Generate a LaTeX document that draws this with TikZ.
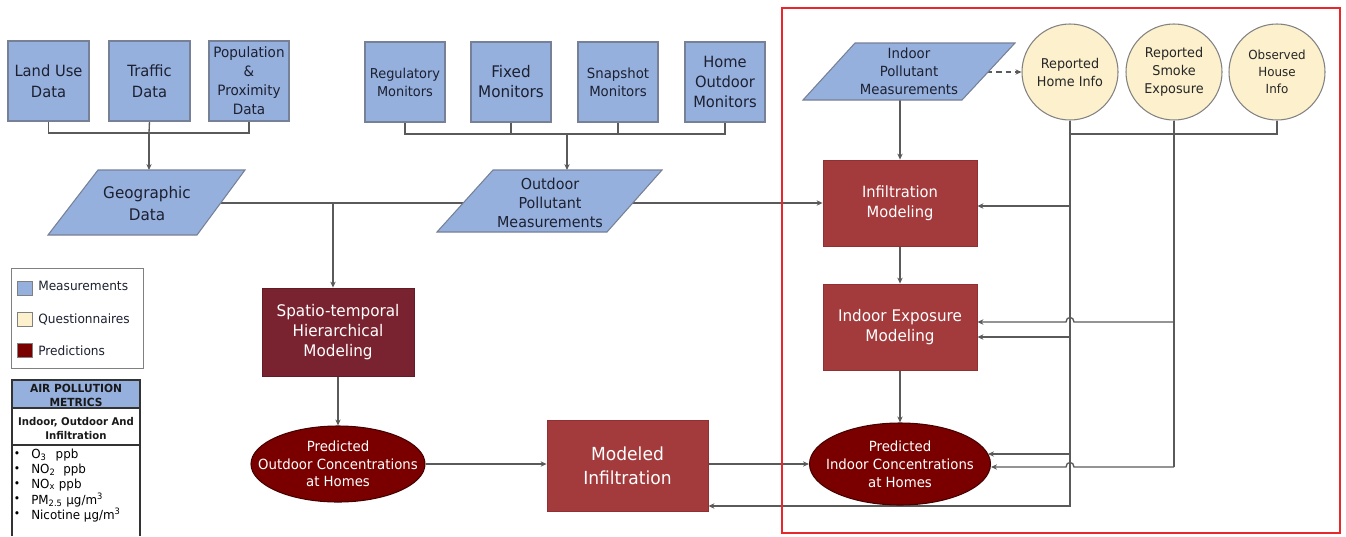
\documentclass[tikz,border=0pt]{standalone}
\usepackage{fontspec}
\setmainfont{DejaVu Sans}[FakeStretch=0.95]
\usetikzlibrary{arrows.meta,shapes.geometric}
\definecolor{measblue}{RGB}{150,176,222}
\definecolor{measdraw}{RGB}{118,128,150}
\definecolor{bluetext}{RGB}{28,32,48}
\definecolor{questfill}{RGB}{252,240,205}
\definecolor{questdraw}{RGB}{130,130,130}
\definecolor{maroon}{RGB}{122,35,48}
\definecolor{modred}{RGB}{163,58,60}
\definecolor{modreddraw}{RGB}{145,48,50}
\definecolor{ellred}{RGB}{122,0,0}
\definecolor{elldraw}{RGB}{70,0,0}
\definecolor{conncol}{RGB}{90,90,90}
\definecolor{framered}{RGB}{232,38,44}
\pgfdeclarelayer{bg}\pgfdeclarelayer{fg}\pgfsetlayers{bg,main,fg}
\begin{document}
\begin{tikzpicture}[x=0.75pt,y=-0.75pt,
  fnt/.style 2 args={font=\fontsize{#1}{#2}\selectfont},
  box/.style={rectangle, inner sep=0pt, align=center},
  meas/.style={box, fill=measblue, draw=measdraw, line width=0.8pt, text=bluetext},
  pgram/.style={fill=measblue, draw=measdraw, line width=0.8pt},
  ptext/.style={inner sep=0pt, align=center, text=bluetext},
  quest/.style={circle, inner sep=0pt, fill=questfill, draw=questdraw, line width=0.8pt, minimum size=96*0.75pt, align=center, text=black!85},
  modbox/.style={box, fill=modred, draw=modreddraw, line width=0.6pt, text=white},
  stbox/.style={box, fill=maroon, draw=maroon!80!black, line width=0.6pt, text=white},
  ell/.style={ellipse, inner sep=0pt, fill=ellred, draw=elldraw, line width=0.8pt},
  elltext/.style={inner sep=0pt, align=center, text=white},
  conn/.style={draw=conncol, line width=1pt},
  arr/.style={conn, -{Stealth[length=4.5pt,width=4pt]}},
  legsq/.style={rectangle, inner sep=0pt, minimum width=15*0.75pt, minimum height=14*0.75pt, draw=gray, line width=0.5pt},
  legtext/.style={anchor=west, inner sep=0pt, fnt={9.6}{12}, text=bluetext},
  item/.style={anchor=west, inner sep=0pt, fnt={9.4}{11}, text=black},
  bullet/.style={anchor=center, inner sep=0pt, fnt={8.5}{9}, text=black}
]
\useasboundingbox (0,0) rectangle (1346,536);

% ---------- top measurement boxes ----------
\node[meas, minimum width=81*0.75pt, minimum height=80*0.75pt, fnt={11.6}{15.75}] (landuse) at (48.5,81) {Land Use\\Data};
\node[meas, minimum width=81*0.75pt, minimum height=80*0.75pt, fnt={11.6}{15.75}] (traffic) at (149.5,81) {Traffic\\Data};
\node[meas, minimum width=80*0.75pt, minimum height=80*0.75pt, fnt={10.7}{14.25}] (popul) at (249,81) {Population\\\&\\Proximity\\Data};

\node[meas, minimum width=80*0.75pt, minimum height=80*0.75pt, fnt={10.2}{13.5}] (regul) at (405,82) {Regulatory\\Monitors};
\node[meas, minimum width=80*0.75pt, minimum height=80*0.75pt, fnt={12}{15}] (fixed) at (511,82) {Fixed\\Monitors};
\node[meas, minimum width=80*0.75pt, minimum height=80*0.75pt, fnt={10.5}{13.5}] (snap) at (618,82) {Snapshot\\Monitors};
\node[meas, minimum width=80*0.75pt, minimum height=80*0.75pt, fnt={11.6}{15}] (homeout) at (725,82) {Home\\Outdoor\\Monitors};

% ---------- parallelograms ----------
\draw[pgram] (98,170) -- (245,170) -- (197,235) -- (48,235) -- cycle;
\node[ptext, fnt={12}{16.5}] (geo) at (147,204) {Geographic\\Data};
\coordinate (geoN) at (149,170);
\coordinate (geoE) at (221,203);

\draw[pgram] (493,170) -- (662,170) -- (607,232) -- (437,232) -- cycle;
\node[ptext, fnt={11.3}{14.25}] (outpoll) at (550,203) {Outdoor\\Pollutant\\Measurements};
\coordinate (outpollN) at (567,170);

\draw[pgram] (855,43) -- (1015,43) -- (962,100) -- (803,100) -- cycle;
\node[ptext, fnt={10.5}{13.5}] (indpoll) at (909,71) {Indoor\\Pollutant\\Measurements};
\coordinate (indpollS) at (900,100);
\coordinate (indpollE) at (987,72);

% ---------- questionnaire circles ----------
\node[quest, fnt={10.1}{13.5}] (homeinfo) at (1070,72) {Reported\\Home Info};
\node[quest, fnt={10.1}{13.5}] (smoke) at (1174,72) {Reported\\Smoke\\Exposure};
\node[quest, fnt={9.4}{12.75}] (observed) at (1277,72) {Observed\\House\\Info};

% ---------- model boxes ----------
\node[modbox, minimum width=154*0.75pt, minimum height=86*0.75pt, fnt={11.6}{15}] (infil) at (900,203) {Infiltration\\Modeling};
\node[modbox, minimum width=154*0.75pt, minimum height=86*0.75pt, fnt={12}{15}] (indexp) at (900,327) {Indoor Exposure\\Modeling};
\node[stbox, minimum width=152*0.75pt, minimum height=88*0.75pt, fnt={12}{15}] (spatio) at (338,332) {Spatio-temporal\\Hierarchical\\Modeling};
\node[modbox, minimum width=161*0.75pt, minimum height=91*0.75pt, fnt={13.5}{18}] (modinf) at (627.5,465.5) {Modeled\\Infiltration};

% ---------- ellipses ----------
\node[ell, minimum width=174*0.75pt, minimum height=76*0.75pt] (predout) at (338,464) {};
\node[elltext, fnt={10.5}{13.2}] at (predout) {Predicted\\Outdoor Concentrations\\at Homes};
\node[ell, minimum width=181*0.75pt, minimum height=82*0.75pt] (predin) at (900,464) {};
\node[elltext, fnt={10.5}{13.5}] at (predin) {Predicted\\Indoor Concentrations\\at Homes};

% ---------- connectors ----------
\coordinate (b1) at (149,133);
\coordinate (b2) at (567,134);
\coordinate (b3) at (1174,134);
\coordinate (junc) at (333,203);
\coordinate (hb) at (1070,506);
\coordinate (sb) at (1174,467);
\coordinate (h1) at (1070,206);
\coordinate (h2) at (1070,337);
\coordinate (h3) at (1070,454);
\coordinate (s1) at (1174,322);
\coordinate (pinA) at (988,454);
\begin{pgfonlayer}{bg}
\draw[conn] (landuse.south) |- (b1) -| (popul.south);
\draw[conn] (traffic.south) -- (b1);
\draw[arr] (b1) -- (geoN);
\draw[conn] (regul.south) |- (b2) -| (homeout.south);
\draw[conn] (fixed.south) -- (fixed.south |- b2);
\draw[conn] (snap.south) -- (snap.south |- b2);
\draw[arr] (b2) -- (outpollN);
\draw[arr] (geoE) -- (geoE -| infil.west);
\draw[arr] (junc) -- (junc |- spatio.north);
\draw[arr] (spatio.south) -- (predout.north);
\draw[arr] (predout.east) -- (predout.east -| modinf.west);
\draw[arr] (modinf.east |- predin.west) -- (predin.west);
\draw[arr] (indpollS) -- (indpollS |- infil.north);
\draw[arr] (infil.south) -- (indexp.north);
\draw[arr] (indexp.south) -- (predin.north);
\draw[arr, dash pattern=on 4pt off 3pt] (indpollE) -- (homeinfo.west);
\draw[conn] (homeinfo.south) |- (b3) -| (observed.south);
\draw[arr] (homeinfo.south) -- (hb) -- (hb -| modinf.east);
\draw[conn] (smoke.south) -- (sb);
\draw[arr] (h1) -- (h1 -| infil.east);
\draw[arr] (h2) -- (h2 -| indexp.east);
\draw[arr] (h3) -- (pinA);
\draw[arr] (s1) -- (1074,322) .. controls (1074,316) and (1066,316) .. (1066,322) -- (s1 -| indexp.east);
\draw[arr] (sb) -- (1074,467) .. controls (1074,461) and (1066,461) .. (1066,467) -- (sb -| predin.east);
\end{pgfonlayer}

% ---------- legend ----------
\draw[draw=gray, line width=0.6pt] (11,268) rectangle (143,368);
\node[legsq, fill=measblue] (lg1) at (24.5,288.5) {};
\node[legsq, fill=questfill] (lg2) at (24.5,319.5) {};
\node[legsq, fill=ellred] (lg3) at (24.5,350) {};
\node[legtext] at (38,286) {Measurements};
\node[legtext] at (38,319) {Questionnaires};
\node[legtext] at (38,351) {Predictions};

% ---------- metrics table ----------
\fill[measblue] (12,380) rectangle (140,408);
\draw[black!80, line width=0.8pt] (12,536) -- (12,380) -- (140,380) -- (140,536);
\draw[black!80, line width=0.8pt] (12,408) -- (140,408);
\draw[black!80, line width=0.8pt] (12,445) -- (140,445);
\node[inner sep=0pt, align=center, font=\bfseries\fontsize{8.4}{10.4}\selectfont, text=black!90] at (76,395) {AIR POLLUTION\\METRICS};
\node[inner sep=0pt, align=center, font=\bfseries\fontsize{8}{10.2}\selectfont, text=black!90] at (76,428.5) {Indoor, Outdoor And\\Infiltration};
\foreach \yy in {455,470,485,500,515} { \node[bullet] at (17,\yy) {•}; }
\node[item] at (31,455) {O\textsubscript{3}\hspace{4pt} ppb};
\node[item] at (31,470) {NO\textsubscript{2}\hspace{3pt} ppb};
\node[item] at (31,485) {NO\textsubscript{x} ppb};
\node[item] at (31,500) {PM\textsubscript{2.5} µg/m\textsuperscript{3}};
\node[item] at (31,515) {Nicotine µg/m\textsuperscript{3}};

% ---------- red frame ----------
\begin{pgfonlayer}{fg}
\draw[framered, line width=1.2pt] (782,8) rectangle (1340,533);
\end{pgfonlayer}
\end{tikzpicture}
\end{document}
